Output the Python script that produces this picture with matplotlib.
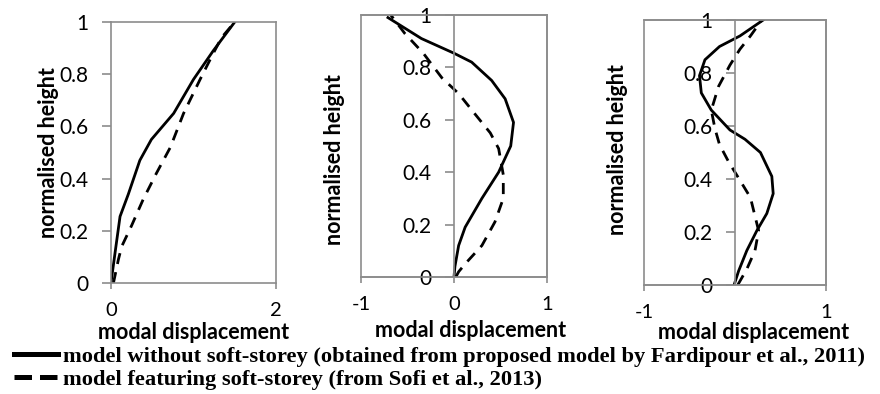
import matplotlib.pyplot as plt
from matplotlib.lines import Line2D
from matplotlib.patches import Rectangle

# panel 1: first mode
h1_solid = [0, 0.14, 0.255, 0.34, 0.47, 0.55, 0.65, 0.78, 0.89, 1.0]
d1_solid = [0, 0.06, 0.11, 0.21, 0.35, 0.49, 0.76, 1.0, 1.24, 1.5]
h1_dash = [0, 0.09, 0.14, 0.22, 0.32, 0.42, 0.52, 0.65, 0.78, 0.88, 0.94, 1.0]
d1_dash = [0.03, 0.09, 0.13, 0.25, 0.39, 0.55, 0.72, 0.88, 1.08, 1.24, 1.34, 1.5]

# panel 2: second mode
h2_solid = [0, 0.04, 0.12, 0.19, 0.30, 0.40, 0.50, 0.59, 0.68, 0.75, 0.82, 0.854, 0.91, 0.99]
d2_solid = [0, 0.01, 0.05, 0.12, 0.30, 0.48, 0.61, 0.64, 0.55, 0.405, 0.19, 0.0, -0.35, -0.71]
h2_dash = [0, 0.02, 0.05, 0.12, 0.21, 0.30, 0.39, 0.49, 0.55, 0.62, 0.70, 0.76, 0.854, 0.93, 1.0]
d2_dash = [0.02, 0.05, 0.12, 0.30, 0.44, 0.53, 0.53, 0.48, 0.39, 0.23, 0.05, -0.13, -0.33, -0.53, -0.68]

# panel 3: third mode
h3_solid = [0, 0.053, 0.13, 0.205, 0.27, 0.345, 0.41, 0.50, 0.55, 0.585, 0.66, 0.725, 0.79, 0.85, 0.90, 0.94, 1.0]
d3_solid = [-0.01, 0.04, 0.13, 0.24, 0.35, 0.42, 0.405, 0.28, 0.11, -0.055, -0.26, -0.37, -0.39, -0.33, -0.17, 0.055, 0.31]
h3_dash = [0, 0.06, 0.13, 0.205, 0.26, 0.33, 0.395, 0.465, 0.53, 0.59, 0.66, 0.75, 0.83, 0.89, 0.94, 1.0]
d3_dash = [0.03, 0.13, 0.22, 0.26, 0.22, 0.17, 0.055, -0.07, -0.17, -0.22, -0.26, -0.18, -0.055, 0.055, 0.17, 0.295]

panels = [
    dict(pos=[0.1261, 0.2817, 0.1875, 0.6624], xlim=(0, 2), xticks=[0, 2],
         solid=(d1_solid, h1_solid), dash=(d1_dash, h1_dash),
         ylab=(-0.38, 0.50), xlab=(0.50, -0.19), zero_axis=False),
    dict(pos=[0.4102, 0.2970, 0.2114, 0.6650], xlim=(-1, 1), xticks=[-1, 0, 1],
         solid=(d2_solid, h2_solid), dash=(d2_dash, h2_dash),
         ylab=(-0.14, 0.45), xlab=(0.59, -0.205), zero_axis=True),
    dict(pos=[0.7318, 0.2766, 0.2068, 0.6726], xlim=(-1, 1), xticks=[-1, 1],
         solid=(d3_solid, h3_solid), dash=(d3_dash, h3_dash),
         ylab=(-0.148, 0.51), xlab=(0.60, -0.18), zero_axis=True),
]

grey = "#8c8c8c"
fig = plt.figure(figsize=(8.8, 3.94), dpi=100)

for p in panels:
    ax = fig.add_axes(p["pos"])
    ax.plot(*p["solid"], color="black", lw=2.0)
    ax.plot(*p["dash"], color="black", lw=2.0, dashes=(4, 3))
    ax.set_xlim(*p["xlim"])
    ax.set_ylim(0, 1)
    ax.set_xticks(p["xticks"])
    ax.set_xticklabels([str(t) for t in p["xticks"]])
    ax.set_yticks([0, 0.2, 0.4, 0.6, 0.8, 1])
    ax.set_yticklabels(["0", "0.2", "0.4", "0.6", "0.8", "1"])
    for s in ax.spines.values():
        s.set_color(grey)
        s.set_linewidth(1.2)
    if p["zero_axis"]:
        ax.spines["left"].set_position(("data", 0))
        ax.add_patch(Rectangle((0, 0), 1, 1, transform=ax.transAxes, fill=False,
                               edgecolor=grey, lw=1.2, clip_on=False, zorder=0))
    ax.tick_params(axis="both", colors=grey, labelcolor="black", width=1.2,
                   labelsize=15)
    ax.tick_params(axis="y", length=6.5, pad=10)
    ax.tick_params(axis="x", length=4.5, pad=9, labelsize=14.5)
    for lab in ax.get_xticklabels() + ax.get_yticklabels():
        lab.set_family("Lato")
    ax.set_ylabel("normalised height", fontsize=15.5, fontweight="bold", family="Lato")
    ax.set_xlabel("modal displacement", fontsize=15.5, fontweight="bold", family="Lato")
    ax.yaxis.set_label_coords(*p["ylab"])
    ax.xaxis.set_label_coords(*p["xlab"])
    ax.xaxis.label.set_va("center")
    ax.yaxis.label.set_va("center")

handles = [Line2D([], [], color="black", lw=3.6),
           Line2D([], [], color="black", lw=3.6, dashes=(3.5, 1.6))]
labels = ["model without soft-storey (obtained from proposed model by Fardipour et al., 2011)",
          "model featuring soft-storey (from Sofi et al., 2013)"]
fig.legend(handles, labels, loc="lower left", bbox_to_anchor=(-0.004, -0.035), frameon=False,
           prop=dict(family="Liberation Serif", weight="bold", size=16.2),
           handlelength=1.95, handletextpad=0.2, labelspacing=0.1, borderpad=0.3)

fig.savefig("out.png", dpi=100)
